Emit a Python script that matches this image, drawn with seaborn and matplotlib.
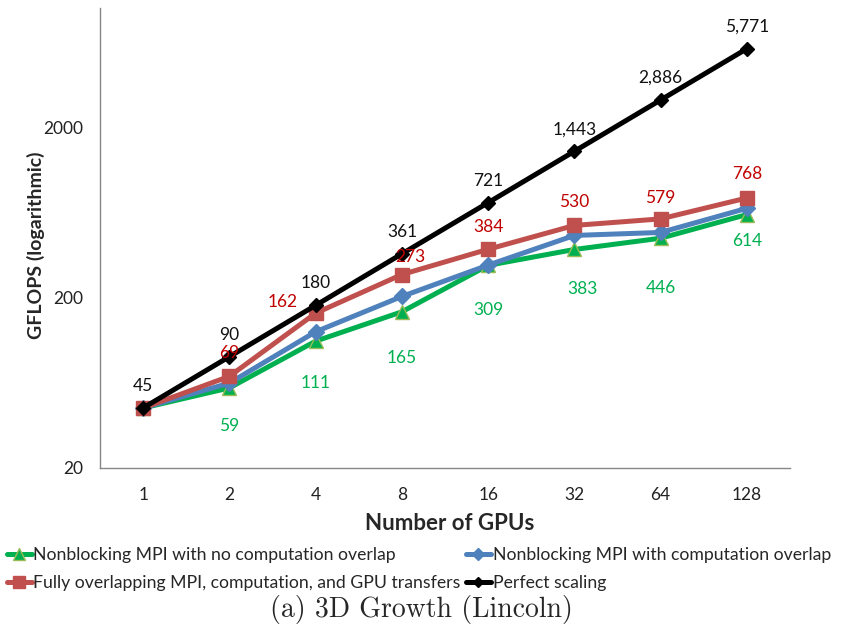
import matplotlib
matplotlib.use("Agg")
import matplotlib.pyplot as plt
import seaborn as sns
import pandas as pd
import numpy as np

gpus = ["1", "2", "4", "8", "16", "32", "64", "128"]
no_overlap = [45, 59, 111, 165, 309, 383, 446, 614]
comp_overlap = [45, 63, 126, 203, 310, 463, 482, 668]
full_overlap = [45, 69, 162, 273, 384, 530, 579, 768]
perfect = [45, 90, 180, 361, 721, 1443, 2886, 5771]
y_ticks = [20, 200, 2000]

names = ["Nonblocking MPI with no computation overlap",
         "Nonblocking MPI with computation overlap",
         "Fully overlapping MPI, computation, and GPU transfers",
         "Perfect scaling"]

sns.set_theme(style="white")
plt.rcParams['font.family'] = ['Lato', 'DejaVu Sans']

fig = plt.figure(figsize=(8.43, 6.35), dpi=100)
ax = fig.add_axes([100/843, 1-468/635, 690/843, 460/635])

x = np.arange(len(gpus))
series = [
    (no_overlap, names[0], "#00B050", "^", 10, "#9BBB59"),
    (comp_overlap, names[1], "#4F81BD", "D", 8, "#4F81BD"),
    (full_overlap, names[2], "#C0504D", "s", 10, "#C0504D"),
    (perfect, names[3], "#000000", "D", 7, "#000000"),
]
for vals, name, col, mk, ms, ec in series:
    df = pd.DataFrame({"x": x, "y": vals})
    sns.lineplot(data=df, x="x", y="y", ax=ax, color=col, lw=3.6,
                 marker=mk, markersize=ms, markeredgecolor=ec,
                 markeredgewidth=1, label=name)

ax.set_yscale("log")
ax.set_ylim(20, 10000)
ax.set_xlim(-0.5, len(gpus) - 0.5)
ax.set_yticks(y_ticks)
ax.set_yticklabels([str(v) for v in y_ticks], fontsize=12.5)
ax.yaxis.set_minor_locator(matplotlib.ticker.NullLocator())
ax.set_xticks(x)
ax.set_xticklabels(gpus, fontsize=12.5)
ax.set_xticks(np.arange(-0.5, len(gpus) + 0.5, 1), minor=True)
ax.tick_params(axis="x", which="major", length=0, pad=14, colors="#222222")
ax.tick_params(axis="x", which="minor", length=6, width=1, color="#868686", direction="out")
ax.tick_params(axis="y", which="major", length=12, width=1, color="#868686", direction="inout", pad=6, colors="#222222")
ax.tick_params(axis="y", which="major", color="#868686")
ax.tick_params(axis="x", which="minor", color="#868686")
for s in ["top", "right"]:
    ax.spines[s].set_visible(False)
for s in ["left", "bottom"]:
    ax.spines[s].set_color("#868686")
    ax.spines[s].set_linewidth(1)
ax.set_xlabel("")
ax.set_ylabel("")

fig.text(36/843, 1-245/635, "GFLOPS (logarithmic)", rotation=90, ha="center", va="center",
         fontsize=14, fontweight="bold")
fig.text(450/843, 1-523/635, "Number of GPUs", ha="center", va="center",
         fontsize=16, fontweight="bold")

# data labels (pixel offsets)
black_off = [(0, 22)] * 8
red_off = [None, (0, 23), (-33, 11), (8, 18), (0, 22), (0, 23), (0, 21), (0, 24)]
green_off = [None, (0, -38), (0, -42), (0, -46), (0, -45), (8, -40), (0, -50), (0, -26)]

def fmt(v):
    return f"{v:,}"

for i, v in enumerate(perfect):
    ax.annotate(fmt(v), (x[i], v), xytext=black_off[i], textcoords="offset pixels",
                ha="center", va="center", fontsize=12.5, color="#111111")
for i, v in enumerate(full_overlap):
    if red_off[i] is None:
        continue
    ax.annotate(fmt(v), (x[i], v), xytext=red_off[i], textcoords="offset pixels",
                ha="center", va="center", fontsize=12.5, color="#C00000")
for i, v in enumerate(no_overlap):
    if green_off[i] is None:
        continue
    ax.annotate(fmt(v), (x[i], v), xytext=green_off[i], textcoords="offset pixels",
                ha="center", va="center", fontsize=12.5, color="#00B050")

handles, labels = ax.get_legend_handles_labels()
order = [0, 2, 1, 3]
ax.legend([handles[i] for i in order], [labels[i] for i in order], ncol=2,
          loc="center left", bbox_to_anchor=(7/843, 1-569/635), bbox_transform=fig.transFigure,
          frameon=False, fontsize=12.7, handlelength=1.4, handletextpad=0.1,
          columnspacing=0.3, labelspacing=0.7, borderpad=0, borderaxespad=0,
          markerscale=0.8)

fig.text(421/843, 1-609/635, "(a) 3D Growth (Lincoln)", ha="center", va="center",
         fontsize=20, family="cmr10")

fig.savefig("out.png", dpi=100)
